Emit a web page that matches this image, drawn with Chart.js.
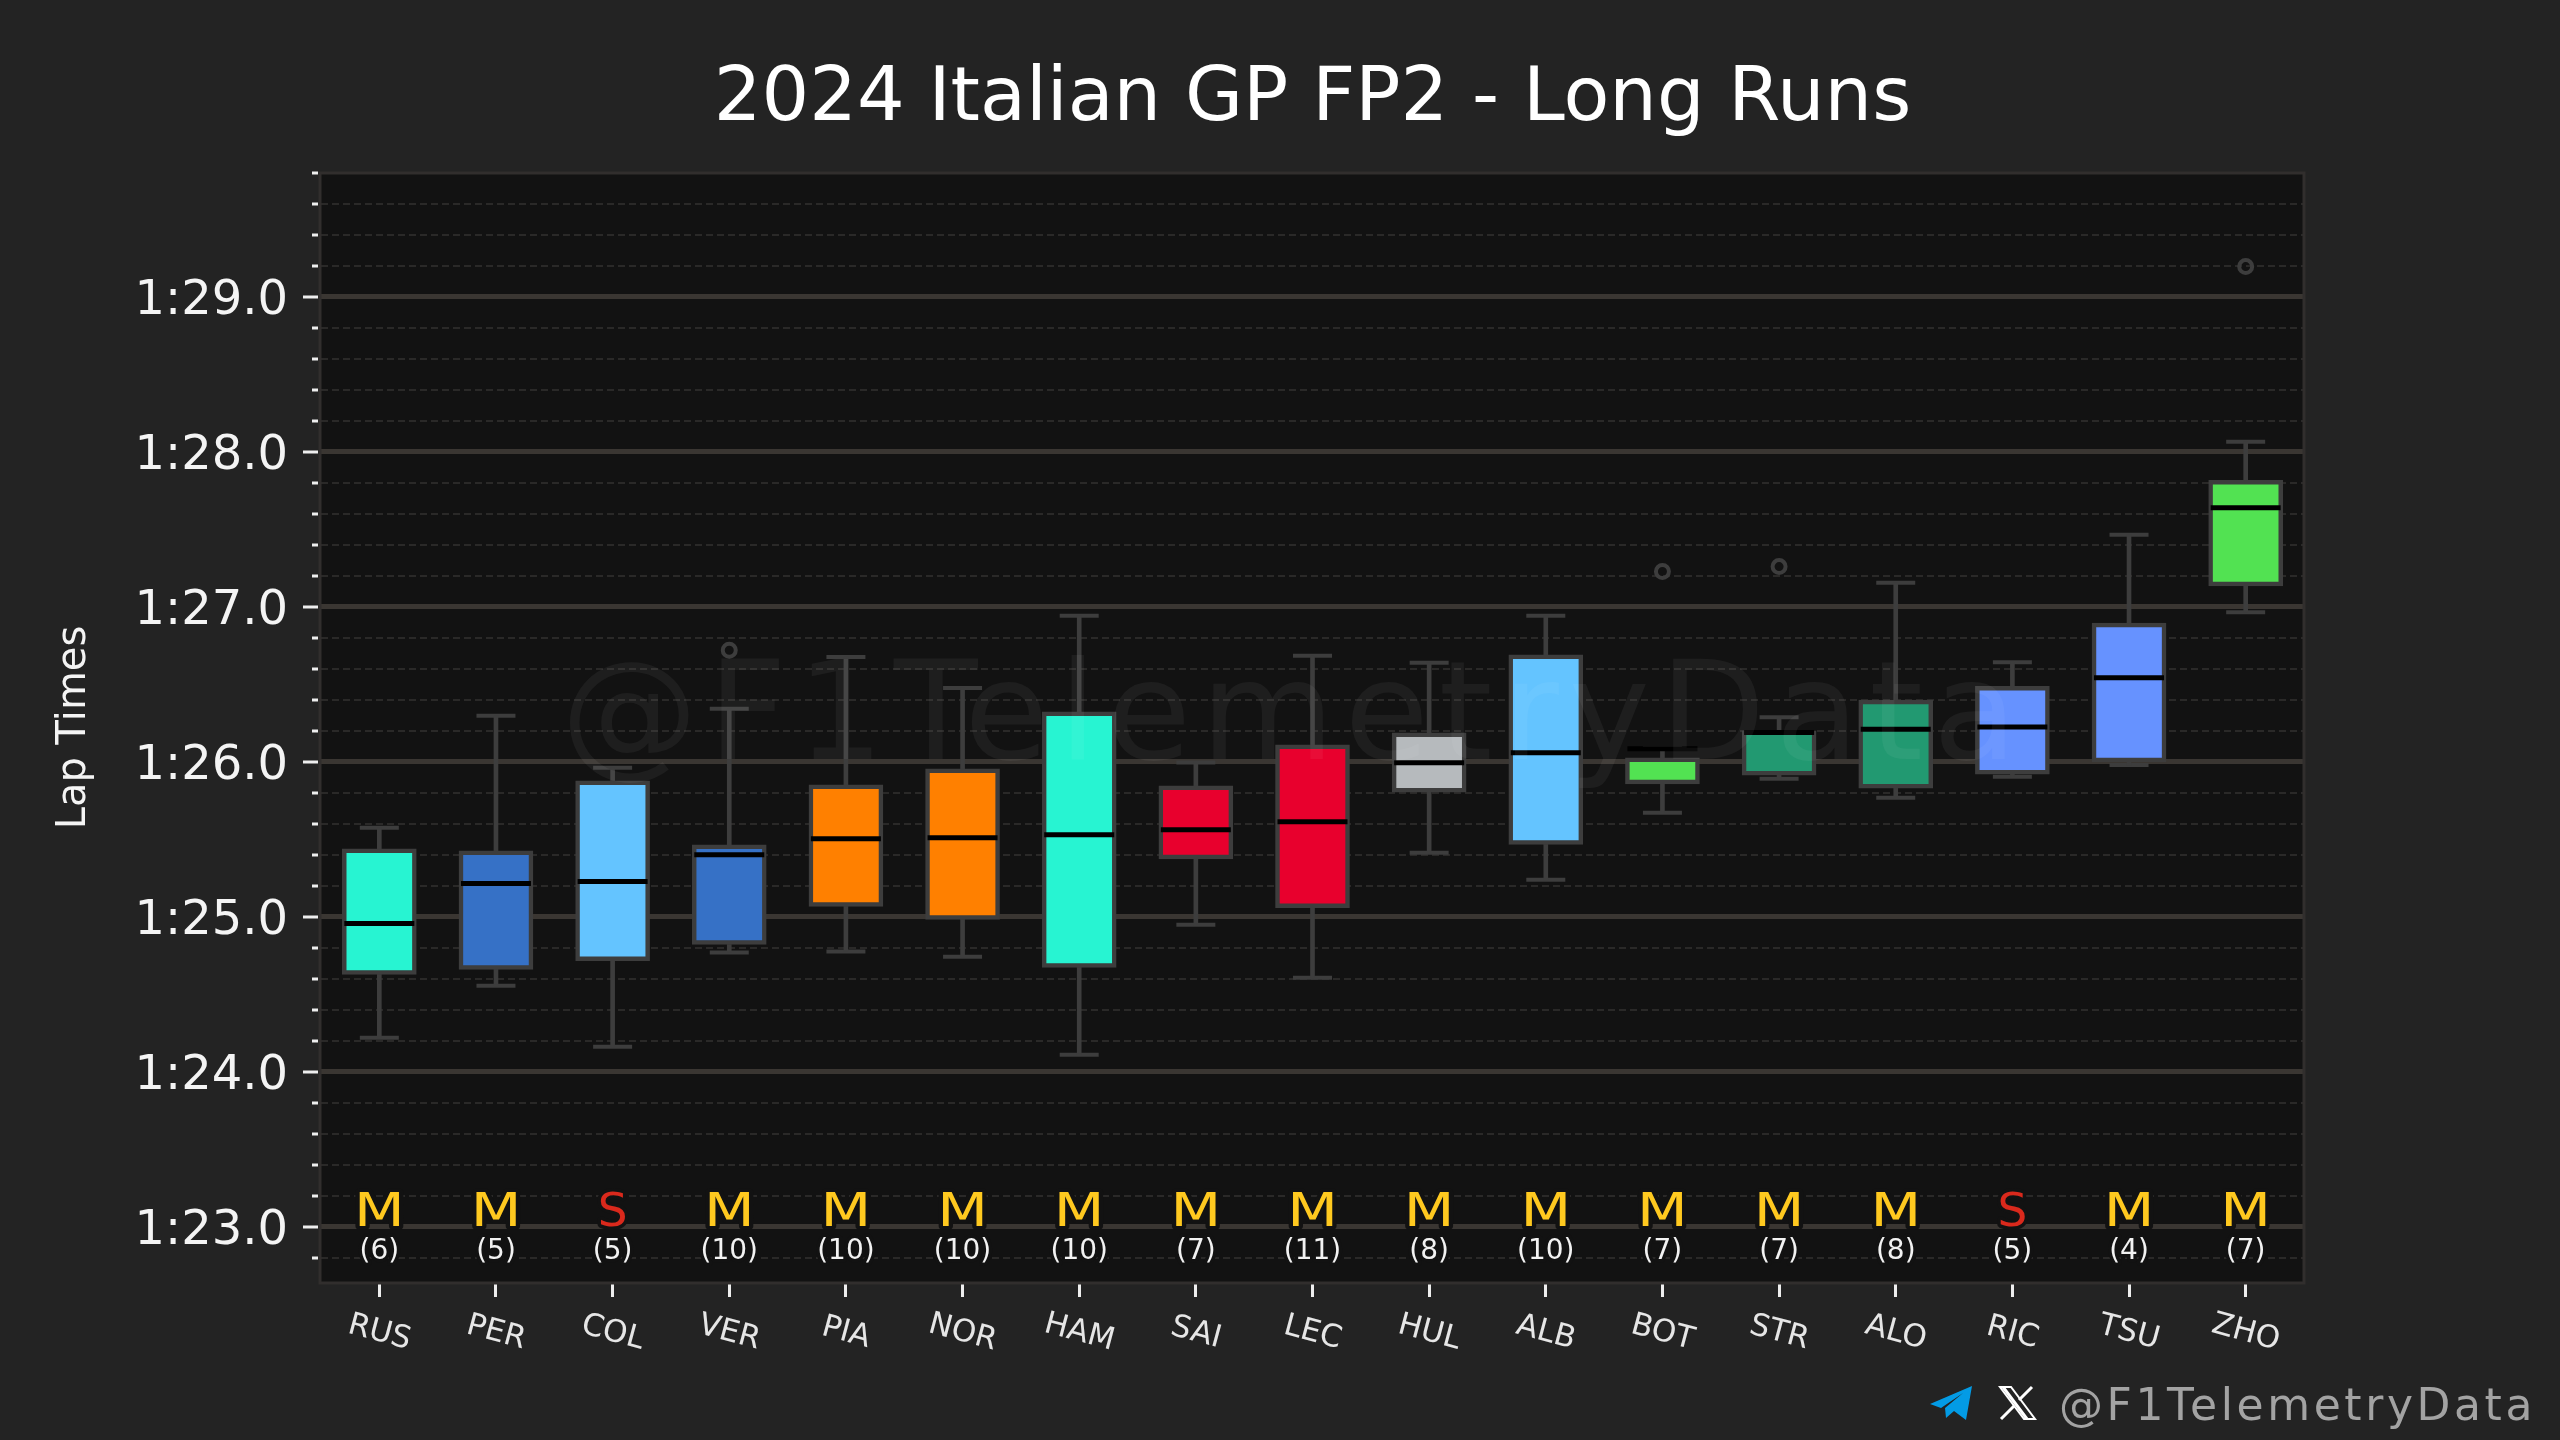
<!DOCTYPE html>
<html>
<head>
<meta charset="utf-8">
<title>2024 Italian GP FP2 - Long Runs</title>
<script src="https://cdn.jsdelivr.net/npm/chart.js@4"></script>
<style>
  html, body { margin: 0; padding: 0; background: #232323; }
  canvas { display: block; }
</style>
</head>
<body>
<canvas id="myChart" width="2560" height="1440"></canvas>
<script>
const drivers = ['RUS','PER','COL','VER','PIA','NOR','HAM','SAI','LEC','HUL','ALB','BOT','STR','ALO','RIC','TSU','ZHO'];
const compounds = ['M','M','S','M','M','M','M','M','M','M','M','M','M','M','S','M','M'];
const lapCounts = [6,5,5,10,10,10,10,7,11,8,10,7,7,8,5,4,7];
const teamColors = ['#27f4d2','#3671c6','#64c4ff','#3671c6','#ff8000','#ff8000','#27f4d2','#e8002d','#e8002d','#b6babd','#64c4ff','#52e252','#229971','#229971','#6692ff','#6692ff','#52e252'];

// lap times in seconds
const whiskerLow = [84.219,84.555,84.161,84.770,84.776,84.742,84.110,84.948,84.606,85.413,85.239,85.671,85.890,85.768,85.903,85.980,86.966];
const boxLow     = [84.628,84.660,84.716,84.821,85.067,84.983,84.673,85.374,85.058,85.804,85.467,85.858,85.914,85.830,85.920,86.000,87.135];
const medians    = [84.957,85.215,85.228,85.400,85.503,85.510,85.529,85.561,85.613,85.994,86.058,86.084,86.190,86.210,86.224,86.542,87.639];
const boxHigh    = [85.439,85.426,85.878,85.465,85.852,85.955,86.323,85.845,86.110,86.187,86.690,86.026,86.200,86.398,86.488,86.895,87.817];
const whiskerHigh = [85.574,86.297,85.961,86.342,86.677,86.477,86.943,85.996,86.684,86.639,86.943,86.090,86.288,87.155,86.643,87.465,88.065];
const outliers   = [null,null,null,86.720,null,null,null,null,null,null,null,87.228,87.260,null,null,null,89.196];

const yMajor = [83,84,85,86,87,88,89];
const yMajorLabels = ['1:23.0','1:24.0','1:25.0','1:26.0','1:27.0','1:28.0','1:29.0'];
const yMinor = [82.8,83.2,83.4,83.6,83.8,84.2,84.4,84.6,84.8,85.2,85.4,85.6,85.8,86.2,86.4,86.6,86.8,87.2,87.4,87.6,87.8,88.2,88.4,88.6,88.8,89.2,89.4,89.6,89.8];

const FONT = '"DejaVu Sans"';
const GREY = '#3d3d3d';

const pairs = (a, b) => a.map((v, i) => [v, b[i]]);

function outlinedText(ctx, text, x, y, color, stretch) {
  ctx.save();
  ctx.translate(x, y);
  ctx.scale(stretch || 1, 1);
  ctx.lineJoin = 'round';
  ctx.lineWidth = 7;
  ctx.strokeStyle = '#121212';
  ctx.strokeText(text, 0, 0);
  ctx.fillStyle = color;
  ctx.fillText(text, 0, 0);
  ctx.restore();
}

// plot background
const plotBackground = {
  id: 'plotBackground',
  beforeDraw(chart) {
    const { ctx, chartArea: a } = chart;
    ctx.save();
    ctx.fillStyle = '#232323';
    ctx.fillRect(0, 0, chart.width, chart.height);
    ctx.fillStyle = '#121212';
    ctx.fillRect(a.left, a.top, a.width, a.height);
    ctx.restore();
  }
};

// watermark sits on top of the boxes
const watermark = {
  id: 'watermark',
  afterDatasetsDraw(chart) {
    const ctx = chart.ctx;
    ctx.save();
    ctx.font = '137px ' + FONT;
    ctx.letterSpacing = '10px';
    ctx.textAlign = 'left';
    ctx.textBaseline = 'alphabetic';
    ctx.fillStyle = 'rgba(255,255,255,0.05)';
    ctx.fillText('@F1TelemetryData', 561, 759);
    ctx.restore();
  }
};

// spines, y ticks, rotated driver names, compound and lap count, footer
const decorations = {
  id: 'decorations',
  afterDraw(chart) {
    const { ctx, chartArea: a, scales } = chart;
    const x = scales.x, y = scales.y;
    ctx.save();

    ctx.strokeStyle = '#312e2d';
    ctx.lineWidth = 3;
    ctx.strokeRect(a.left - 1, a.top, a.width + 1, a.height + 1);

    ctx.strokeStyle = '#eeeeee';
    ctx.lineWidth = 3;
    y.ticks.forEach(t => {
      const py = Math.round(y.getPixelForValue(t.value));
      ctx.beginPath();
      ctx.moveTo(318, py);
      ctx.lineTo(yMajor.includes(t.value) ? 303 : 312, py);
      ctx.stroke();
    });

    ctx.textAlign = 'center';
    ctx.textBaseline = 'middle';
    drivers.forEach((d, i) => {
      const px = x.getPixelForValue(i);
      ctx.font = '47px ' + FONT;
      if (compounds[i] === 'S') {
        outlinedText(ctx, 'S', px, y.getPixelForValue(83.085), '#da291c');
      } else {
        outlinedText(ctx, 'M', px, y.getPixelForValue(83.085), '#ffc91f', 1.25);
      }
      ctx.font = '28px ' + FONT;
      outlinedText(ctx, '(' + lapCounts[i] + ')', px, y.getPixelForValue(82.84), '#f2f2f2');

      ctx.save();
      ctx.translate(px, 1333);
      ctx.rotate(15 * Math.PI / 180);
      ctx.font = '31px ' + FONT;
      ctx.fillStyle = '#e6e6e6';
      ctx.fillText(d, 0, 0);
      ctx.restore();
    });

    // footer
    ctx.fillStyle = '#039be5';
    ctx.beginPath();
    ctx.moveTo(1930, 1404);
    ctx.lineTo(1972, 1386);
    ctx.lineTo(1966, 1420);
    ctx.lineTo(1954, 1411);
    ctx.lineTo(1946, 1418);
    ctx.lineTo(1945, 1408);
    ctx.lineTo(1963, 1393);
    ctx.lineTo(1941, 1408);
    ctx.closePath();
    ctx.fill();

    ctx.strokeStyle = '#ffffff';
    ctx.lineWidth = 2;
    ctx.beginPath();
    ctx.moveTo(2000, 1387);
    ctx.lineTo(2011, 1387);
    ctx.lineTo(2035, 1419);
    ctx.lineTo(2024, 1419);
    ctx.closePath();
    ctx.stroke();
    ctx.lineWidth = 3;
    ctx.beginPath();
    ctx.moveTo(2032, 1387);
    ctx.lineTo(2019, 1400);
    ctx.moveTo(2014, 1406);
    ctx.lineTo(2001, 1419);
    ctx.moveTo(2003, 1387);
    ctx.lineTo(2027, 1419);
    ctx.stroke();

    ctx.font = '44px ' + FONT;
    ctx.letterSpacing = '3.6px';
    ctx.textAlign = 'right';
    ctx.textBaseline = 'alphabetic';
    ctx.fillStyle = '#a3a3a3';
    ctx.fillText('@F1TelemetryData', 2536, 1420);
    ctx.restore();
  }
};

new Chart(document.getElementById('myChart').getContext('2d'), {
  data: {
    labels: drivers,
    datasets: [
      { type: 'line', label: 'Median', data: medians, order: 1, showLine: false, pointStyle: 'line',
        pointRadius: 35, pointBorderWidth: 5, pointBorderColor: '#000000' },
      { type: 'bar', label: 'Box', data: pairs(boxLow, boxHigh), order: 2, grouped: false, barThickness: 74,
        backgroundColor: teamColors, borderColor: GREY, borderWidth: 4.5, borderSkipped: false },
      { type: 'bar', label: 'Upper whisker', data: pairs(boxHigh, whiskerHigh), order: 3, grouped: false, barThickness: 4,
        backgroundColor: GREY, borderWidth: 0 },
      { type: 'bar', label: 'Lower whisker', data: pairs(whiskerLow, boxLow), order: 3, grouped: false, barThickness: 4,
        backgroundColor: GREY, borderWidth: 0 },
      { type: 'line', label: 'Upper cap', data: whiskerHigh, order: 4, showLine: false, pointStyle: 'line',
        pointRadius: 19.5, pointBorderWidth: 4, pointBorderColor: GREY },
      { type: 'line', label: 'Lower cap', data: whiskerLow, order: 4, showLine: false, pointStyle: 'line',
        pointRadius: 19.5, pointBorderWidth: 4, pointBorderColor: GREY },
      { type: 'line', label: 'Outliers', data: outliers, order: 5, showLine: false, pointStyle: 'circle',
        pointRadius: 6.5, pointBorderWidth: 4, pointBorderColor: GREY, pointBackgroundColor: 'transparent' }
    ]
  },
  plugins: [plotBackground, watermark, decorations],
  options: {
    responsive: false,
    animation: false,
    devicePixelRatio: 1,
    events: [],
    layout: { padding: { right: 256 } },
    plugins: {
      legend: { display: false },
      tooltip: { enabled: false },
      title: {
        display: true,
        fullSize: false,
        text: '2024 Italian GP FP2 - Long Runs',
        color: '#ffffff',
        font: { family: FONT, size: 75, weight: 'normal', lineHeight: 1.2 },
        padding: { top: 56, bottom: 27 }
      }
    },
    scales: {
      x: {
        type: 'category',
        offset: true,
        afterFit: scale => { scale.height = 158; },
        border: { display: false },
        grid: { offset: false, drawOnChartArea: false, drawTicks: true, tickLength: 15, tickWidth: 3, tickColor: '#eeeeee' },
        ticks: { display: false }
      },
      y: {
        type: 'linear',
        min: 82.643,
        max: 89.8,
        afterBuildTicks: scale => {
          scale.ticks = yMajor.concat(yMinor).sort((a, b) => a - b).map(value => ({ value }));
        },
        afterFit: scale => { scale.width = 321; },
        border: {
          display: false,
          dash: ctx => yMajor.includes(ctx.tick.value) ? [] : [7, 4]
        },
        grid: {
          drawTicks: false,
          color: ctx => yMajor.includes(ctx.tick.value) ? '#3a3632' : '#2a2928',
          lineWidth: ctx => yMajor.includes(ctx.tick.value) ? 5 : 2
        },
        ticks: {
          autoSkip: false,
          padding: 33,
          color: '#f4f4f4',
          // blank first line nudges the label down to sit on its tick
          font: { family: FONT, size: 48, lineHeight: '9px' },
          callback: value => {
            const i = yMajor.indexOf(value);
            return i >= 0 ? ['', yMajorLabels[i]] : '';
          }
        },
        title: {
          display: true,
          text: 'Lap Times',
          color: '#f4f4f4',
          font: { family: FONT, size: 40, lineHeight: 1.2 },
          padding: { top: 51, bottom: 0 }
        }
      }
    }
  }
});
</script>
</body>
</html>
